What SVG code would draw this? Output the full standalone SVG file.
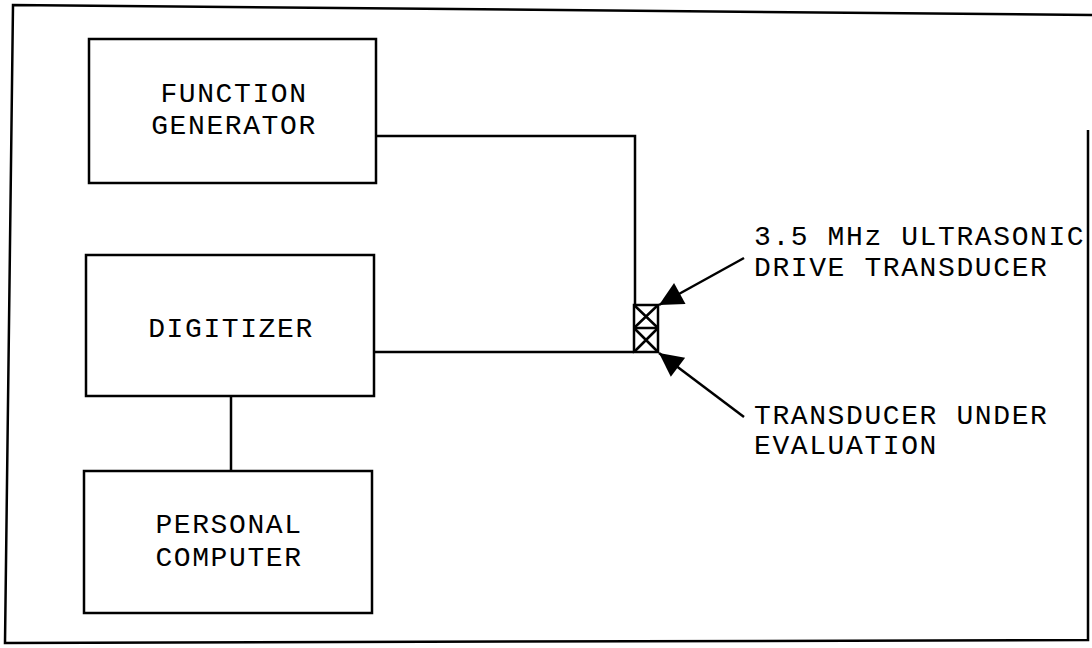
<svg xmlns="http://www.w3.org/2000/svg" width="1092" height="648" viewBox="0 0 1092 648">
<style>
.box{fill:none;stroke:#000;stroke-width:2.5}
.ln{fill:none;stroke:#000;stroke-width:2.5}
.lbl{font-family:"Liberation Mono","DejaVu Sans Mono",monospace;font-size:28px;letter-spacing:1.6px;fill:#000}
.c{text-anchor:middle}
</style>
<defs>
<marker id="ah" viewBox="0 0 10 10" refX="10" refY="5" markerWidth="14" markerHeight="9.5" markerUnits="strokeWidth" orient="auto">
<path d="M0,0 L10,5 L0,10 z" fill="#000"/>
</marker>
</defs>
<rect width="1092" height="648" fill="#fff"/>
<g id="frame">
<polyline class="ln" points="1092,15 13,5 5,643 1088,640 1088,130"/>
</g>
<g id="function-generator">
<rect class="box" x="89" y="39" width="287" height="144"/>
<text class="lbl c" x="234" y="102">FUNCTION</text>
<text class="lbl c" x="234" y="134">GENERATOR</text>
</g>
<g id="digitizer">
<rect class="box" x="86" y="255" width="288" height="141"/>
<text class="lbl c" x="231" y="337">DIGITIZER</text>
</g>
<g id="personal-computer">
<rect class="box" x="84" y="471" width="288" height="142"/>
<text class="lbl c" x="229" y="533">PERSONAL</text>
<text class="lbl c" x="229" y="566">COMPUTER</text>
</g>
<g id="transducer">
<rect class="box" x="634" y="305" width="24" height="47"/>
<line class="ln" x1="634" y1="328" x2="658" y2="328"/>
<path class="ln" stroke-width="2" d="M634,305 L658,328 M658,305 L634,328 M634,328 L658,352 M658,328 L634,352"/>
</g>
<g id="labels">
<text class="lbl" x="754" y="245">3.5 MHz ULTRASONIC</text>
<text class="lbl" x="754" y="276">DRIVE TRANSDUCER</text>
<text class="lbl" x="754" y="424">TRANSDUCER UNDER</text>
<text class="lbl" x="754" y="454">EVALUATION</text>
</g>
<g id="connectors">
<polyline class="ln" points="376,136 635,136 635,305"/>
<line class="ln" x1="374" y1="352" x2="634" y2="352"/>
<line class="ln" x1="231" y1="396" x2="231" y2="471"/>
<line class="ln" x1="744" y1="258" x2="659" y2="305" marker-end="url(#ah)"/>
<line class="ln" x1="744" y1="417" x2="659" y2="353" marker-end="url(#ah)"/>
</g>
</svg>
